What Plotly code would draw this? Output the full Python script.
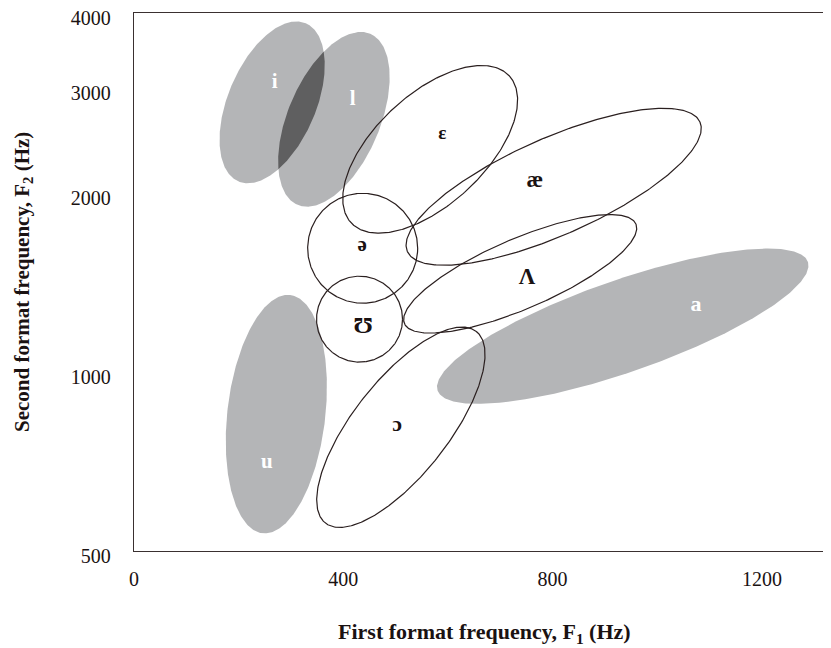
import numpy as np
import plotly.graph_objects as go

# ---------------- data ----------------
# vowel / consonant regions: centre F1 (Hz), centre F2 (Hz)
vowels = ["i", "l", "u", "a", "ε", "æ", "Λ", "ə", "Ʊ", "ɔ"]
center_f1 = [264, 382, 272, 934, 566, 802, 738, 437, 431, 510]
center_f2 = [2836, 2656, 849, 1193, 2365, 2046, 1461, 1613, 1226, 807]
# region spread (semi-axes in plot pixels) and tilt (degrees)
semi_major = [86, 93, 120, 196, 108, 160, 126, 55, 43, 122]
semi_minor = [44, 46, 49, 46, 55, 48.5, 35, 55, 43, 47.5]
tilt_deg = [67, 67, 83.4, 19.2, 43, 23.9, 23.3, 0, 0, 51.8]
filled = [True, True, True, True, False, False, False, False, False, False]

# label positions (Hz)
label_f1 = [269, 418, 254, 1074, 589, 766, 751, 436, 438, 503]
label_f2 = [3060, 2865, 703, 1292, 2510, 2090, 1435, 1630, 1190, 814]
label_size = [21, 21, 21, 22, 19, 23, 23, 21, 24, 22]

x_ticks = [0, 400, 800, 1200]
y_ticks = [500, 1000, 2000, 3000, 4000]

# ---------------- layout constants ----------------
# the page adds an 8px body margin, so the figure is 8px smaller
W, H = 823, 640
ML, MR, MT, MB = 126, 0, 5, 97
PW, PH = W - ML - MR, H - MT - MB
X_RANGE = [0, 1332]
Y_RANGE = [500, 4000]

GRAY = "#b4b5b7"
DARK = "#5f5f60"
LINE = "#2a1f1f"
FONT = "Liberation Serif, Times New Roman, DejaVu Serif, serif"


def to_px(f1, f2):
    px = (np.asarray(f1) - X_RANGE[0]) / (X_RANGE[1] - X_RANGE[0]) * PW
    py = (np.log2(f2) - np.log2(Y_RANGE[0])) / (np.log2(Y_RANGE[1]) - np.log2(Y_RANGE[0])) * PH
    return px, py


def to_data(px, py):
    f1 = X_RANGE[0] + np.asarray(px) / PW * (X_RANGE[1] - X_RANGE[0])
    f2 = 2 ** (np.log2(Y_RANGE[0]) + np.asarray(py) / PH * (np.log2(Y_RANGE[1]) - np.log2(Y_RANGE[0])))
    return f1, f2


def ellipse_px(k, n=360):
    cx, cy = to_px(center_f1[k], center_f2[k])
    t = np.linspace(0, 2 * np.pi, n)
    th = np.radians(tilt_deg[k])
    a, b = semi_major[k], semi_minor[k]
    x = cx + a * np.cos(th) * np.cos(t) - b * np.sin(th) * np.sin(t)
    y = cy + a * np.sin(th) * np.cos(t) + b * np.cos(th) * np.sin(t)
    return x, y


def inside(k, x, y):
    cx, cy = to_px(center_f1[k], center_f2[k])
    th = np.radians(tilt_deg[k])
    dx, dy = x - cx, y - cy
    u = dx * np.cos(th) + dy * np.sin(th)
    v = -dx * np.sin(th) + dy * np.cos(th)
    return (u / semi_major[k]) ** 2 + (v / semi_minor[k]) ** 2 <= 1.0


fig = go.Figure()

# filled (grey) regions
for k in range(len(vowels)):
    if filled[k]:
        x, y = ellipse_px(k)
        f1, f2 = to_data(x, y)
        fig.add_trace(go.Scatter(x=f1, y=f2, mode="lines", fill="toself",
                                 fillcolor=GRAY, line=dict(width=0),
                                 hoverinfo="skip", showlegend=False))

# overlap of i and l, darker
xa, ya = ellipse_px(0, 2000)
xb, yb = ellipse_px(1, 2000)
ma = inside(1, xa, ya)
mb = inside(0, xb, yb)
ox = np.concatenate([xa[ma], xb[mb]])
oy = np.concatenate([ya[ma], yb[mb]])
ang = np.arctan2(oy - oy.mean(), ox - ox.mean())
order = np.argsort(ang)
ox, oy = ox[order], oy[order]
ox = np.append(ox, ox[0]); oy = np.append(oy, oy[0])
f1, f2 = to_data(ox, oy)
fig.add_trace(go.Scatter(x=f1, y=f2, mode="lines", fill="toself",
                         fillcolor=DARK, line=dict(width=0),
                         hoverinfo="skip", showlegend=False))

# outlined regions
for k in range(len(vowels)):
    if not filled[k]:
        x, y = ellipse_px(k)
        f1, f2 = to_data(x, y)
        fig.add_trace(go.Scatter(x=f1, y=f2, mode="lines",
                                 line=dict(color=LINE, width=1.2),
                                 hoverinfo="skip", showlegend=False))

# labels
for k in range(len(vowels)):
    fig.add_trace(go.Scatter(
        x=[label_f1[k]], y=[label_f2[k]], mode="text", text=[f"<b>{vowels[k]}</b>"],
        textposition="middle center",
        textfont=dict(family=FONT, size=label_size[k],
                      color="white" if filled[k] else "#1a1212"),
        hoverinfo="skip", showlegend=False))

fig.update_layout(
    width=W, height=H,
    margin=dict(l=ML, r=MR, t=MT, b=MB),
    paper_bgcolor="white", plot_bgcolor="white",
    font=dict(family=FONT, size=20, color="#1a1212"),
    showlegend=False,
)
fig.update_xaxes(
    range=X_RANGE, tickvals=x_ticks, ticktext=[str(v) for v in x_ticks],
    showgrid=False, zeroline=False, showline=True, linecolor="#3a3030",
    linewidth=1.3, mirror=True, ticks="", ticklabelstandoff=10,
    tickfont=dict(size=20),
)
fig.update_yaxes(
    type="log", range=[np.log10(Y_RANGE[0]), np.log10(Y_RANGE[1]) + 0.0008],
    tickvals=y_ticks, ticktext=[str(v) for v in y_ticks],
    showgrid=False, zeroline=False, showline=True, linecolor="#3a3030",
    linewidth=1.3, mirror=False, ticks="", ticklabelstandoff=18,
    ticklabelshift=5, ticklabeloverflow="allow", tickfont=dict(size=20),
)

fig.add_annotation(
    text="<b>First format frequency, F<sub>1</sub> (Hz)</b>",
    xref="paper", yref="paper", x=(477 - ML) / PW, y=(H - MB - 625) / PH,
    xanchor="center", yanchor="middle", showarrow=False,
    font=dict(family=FONT, size=22, color="#1a1212"),
)
fig.add_annotation(
    text="<b>Second format frequency, F<sub>2</sub> (Hz)</b>",
    xref="paper", yref="paper", x=(15 - ML) / PW, y=0.5, textangle=-90,
    xanchor="center", yanchor="middle", showarrow=False,
    font=dict(family=FONT, size=21, color="#1a1212"),
)

fig.write_html("out.html")
